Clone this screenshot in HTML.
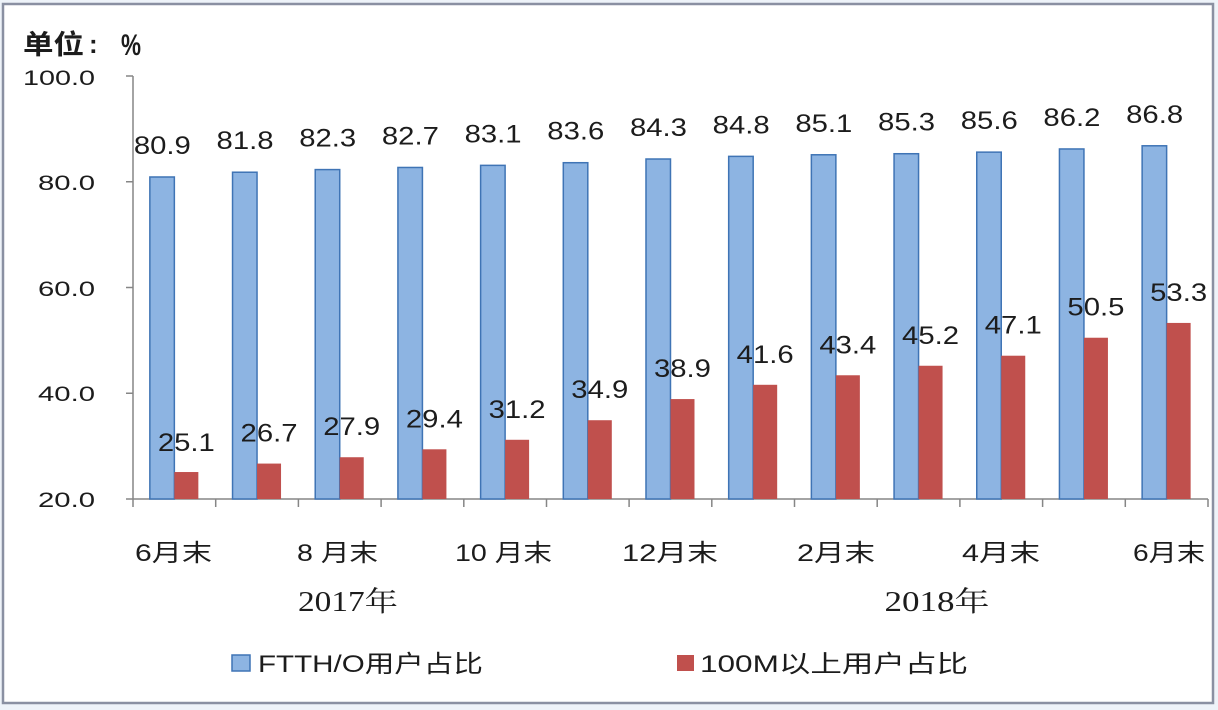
<!DOCTYPE html>
<html>
<head>
<meta charset="utf-8">
<style>
html,body{margin:0;padding:0;background:#ffffff;}
svg{display:block;}
.t{font-family:"Liberation Sans","Noto Sans CJK SC",sans-serif;fill:#1c1c1c;}
.s{font-family:"Liberation Serif","Noto Serif CJK SC","Noto Sans CJK SC",serif;fill:#1c1c1c;}
</style>
</head>
<body>
<svg width="1218" height="710" viewBox="0 0 1218 710" xmlns="http://www.w3.org/2000/svg">
<rect x="0" y="0" width="1218" height="710" fill="#eef3f9"/>
<rect x="3" y="4" width="1210" height="699" fill="#ffffff" stroke="#8a90a2" stroke-width="2.5"/>

<!-- title -->
<text class="t" x="23" y="54" font-size="27" font-weight="bold" textLength="61" lengthAdjust="spacingAndGlyphs">单位</text>
<text class="t" x="89" y="53" font-size="26" font-weight="bold">:</text>
<text class="t" x="121" y="55" font-size="30" font-weight="bold" textLength="20" lengthAdjust="spacingAndGlyphs">%</text>

<!-- axes -->
<g stroke="#868686" stroke-width="1.5" fill="none">
<line x1="133" y1="76" x2="133" y2="507"/>
<line x1="126" y1="76" x2="133" y2="76"/>
<line x1="126" y1="181.75" x2="133" y2="181.75"/>
<line x1="126" y1="287.5" x2="133" y2="287.5"/>
<line x1="126" y1="393.25" x2="133" y2="393.25"/>
<line x1="126" y1="499" x2="1208" y2="499"/>
<line x1="215.7" y1="499" x2="215.7" y2="507"/>
<line x1="298.4" y1="499" x2="298.4" y2="507"/>
<line x1="381.1" y1="499" x2="381.1" y2="507"/>
<line x1="463.8" y1="499" x2="463.8" y2="507"/>
<line x1="546.5" y1="499" x2="546.5" y2="507"/>
<line x1="629.1" y1="499" x2="629.1" y2="507"/>
<line x1="711.8" y1="499" x2="711.8" y2="507"/>
<line x1="794.5" y1="499" x2="794.5" y2="507"/>
<line x1="877.2" y1="499" x2="877.2" y2="507"/>
<line x1="959.9" y1="499" x2="959.9" y2="507"/>
<line x1="1042.6" y1="499" x2="1042.6" y2="507"/>
<line x1="1125.3" y1="499" x2="1125.3" y2="507"/>
<line x1="1208" y1="499" x2="1208" y2="507"/>
</g>

<g class="t" font-size="21" text-anchor="end">
<text x="95" y="85" textLength="72" lengthAdjust="spacingAndGlyphs">100.0</text>
<text x="95" y="190" textLength="57" lengthAdjust="spacingAndGlyphs">80.0</text>
<text x="95" y="296" textLength="57" lengthAdjust="spacingAndGlyphs">60.0</text>
<text x="95" y="401" textLength="57" lengthAdjust="spacingAndGlyphs">40.0</text>
<text x="95" y="507" textLength="57" lengthAdjust="spacingAndGlyphs">20.0</text>
</g>

<!-- blue bars -->
<g fill="#8db4e2" stroke="#3f74b5" stroke-width="1.5">
<rect x="149.85" y="176.99" width="24.5" height="322.01"/>
<rect x="232.54" y="172.23" width="24.5" height="326.77"/>
<rect x="315.23" y="169.59" width="24.5" height="329.41"/>
<rect x="397.92" y="167.47" width="24.5" height="331.53"/>
<rect x="480.61" y="165.36" width="24.5" height="333.64"/>
<rect x="563.30" y="162.71" width="24.5" height="336.29"/>
<rect x="645.99" y="159.01" width="24.5" height="339.99"/>
<rect x="728.68" y="156.37" width="24.5" height="342.63"/>
<rect x="811.37" y="154.78" width="24.5" height="344.22"/>
<rect x="894.06" y="153.73" width="24.5" height="345.27"/>
<rect x="976.75" y="152.14" width="24.5" height="346.86"/>
<rect x="1059.44" y="148.97" width="24.5" height="350.03"/>
<rect x="1142.13" y="145.79" width="24.5" height="353.21"/>
</g>

<!-- red bars -->
<g fill="#c0504d">
<rect x="174.35" y="472.03" width="24" height="26.97"/>
<rect x="257.04" y="463.57" width="24" height="35.43"/>
<rect x="339.73" y="457.23" width="24" height="41.77"/>
<rect x="422.42" y="449.30" width="24" height="49.70"/>
<rect x="505.11" y="439.78" width="24" height="59.22"/>
<rect x="587.80" y="420.22" width="24" height="78.78"/>
<rect x="670.49" y="399.07" width="24" height="99.93"/>
<rect x="753.18" y="384.79" width="24" height="114.21"/>
<rect x="835.87" y="375.27" width="24" height="123.73"/>
<rect x="918.56" y="365.75" width="24" height="133.25"/>
<rect x="1001.25" y="355.71" width="24" height="143.29"/>
<rect x="1083.94" y="337.73" width="24" height="161.27"/>
<rect x="1166.63" y="322.93" width="24" height="176.07"/>
</g>

<!-- blue labels -->
<g class="t" font-size="25" text-anchor="middle">
<text x="162.35" y="154" textLength="57" lengthAdjust="spacingAndGlyphs">80.9</text>
<text x="245.04" y="149.2" textLength="57" lengthAdjust="spacingAndGlyphs">81.8</text>
<text x="327.73" y="146.6" textLength="57" lengthAdjust="spacingAndGlyphs">82.3</text>
<text x="410.42" y="144.5" textLength="57" lengthAdjust="spacingAndGlyphs">82.7</text>
<text x="493.11" y="142.4" textLength="57" lengthAdjust="spacingAndGlyphs">83.1</text>
<text x="575.80" y="139.7" textLength="57" lengthAdjust="spacingAndGlyphs">83.6</text>
<text x="658.49" y="136" textLength="57" lengthAdjust="spacingAndGlyphs">84.3</text>
<text x="741.18" y="133.4" textLength="57" lengthAdjust="spacingAndGlyphs">84.8</text>
<text x="823.87" y="131.8" textLength="57" lengthAdjust="spacingAndGlyphs">85.1</text>
<text x="906.56" y="130.7" textLength="57" lengthAdjust="spacingAndGlyphs">85.3</text>
<text x="989.25" y="129.1" textLength="57" lengthAdjust="spacingAndGlyphs">85.6</text>
<text x="1071.94" y="126" textLength="57" lengthAdjust="spacingAndGlyphs">86.2</text>
<text x="1154.63" y="122.8" textLength="57" lengthAdjust="spacingAndGlyphs">86.8</text>
</g>

<!-- red labels -->
<g class="t" font-size="25" text-anchor="middle">
<text x="186.35" y="451" textLength="57" lengthAdjust="spacingAndGlyphs">25.1</text>
<text x="269.04" y="441.6" textLength="57" lengthAdjust="spacingAndGlyphs">26.7</text>
<text x="351.73" y="435.2" textLength="57" lengthAdjust="spacingAndGlyphs">27.9</text>
<text x="434.42" y="427.3" textLength="57" lengthAdjust="spacingAndGlyphs">29.4</text>
<text x="517.11" y="417.8" textLength="57" lengthAdjust="spacingAndGlyphs">31.2</text>
<text x="599.80" y="398.2" textLength="57" lengthAdjust="spacingAndGlyphs">34.9</text>
<text x="682.49" y="377.1" textLength="57" lengthAdjust="spacingAndGlyphs">38.9</text>
<text x="765.18" y="362.8" textLength="57" lengthAdjust="spacingAndGlyphs">41.6</text>
<text x="847.87" y="353.3" textLength="57" lengthAdjust="spacingAndGlyphs">43.4</text>
<text x="930.56" y="343.8" textLength="57" lengthAdjust="spacingAndGlyphs">45.2</text>
<text x="1013.25" y="333.7" textLength="57" lengthAdjust="spacingAndGlyphs">47.1</text>
<text x="1095.94" y="315.7" textLength="57" lengthAdjust="spacingAndGlyphs">50.5</text>
<text x="1178.63" y="300.9" textLength="57" lengthAdjust="spacingAndGlyphs">53.3</text>
</g>

<!-- x labels -->
<g class="t" font-size="24" text-anchor="middle">
<text x="173.5" y="561" textLength="77" lengthAdjust="spacingAndGlyphs">6月末</text>
<text x="337.5" y="561" textLength="81" lengthAdjust="spacingAndGlyphs">8 月末</text>
<text x="503.5" y="561" textLength="97" lengthAdjust="spacingAndGlyphs">10 月末</text>
<text x="670" y="561" textLength="96" lengthAdjust="spacingAndGlyphs">12月末</text>
<text x="836" y="561" textLength="78" lengthAdjust="spacingAndGlyphs">2月末</text>
<text x="1001" y="561" textLength="78" lengthAdjust="spacingAndGlyphs">4月末</text>
<text x="1169" y="561" textLength="72" lengthAdjust="spacingAndGlyphs">6月末</text>
</g>

<g class="s" font-size="28" text-anchor="middle">
<text x="348" y="611" textLength="100" lengthAdjust="spacingAndGlyphs">2017年</text>
<text x="937" y="611" textLength="105" lengthAdjust="spacingAndGlyphs">2018年</text>
</g>

<!-- legend -->
<rect x="232" y="655" width="18" height="16" fill="#8db4e2" stroke="#3f74b5" stroke-width="1.5"/>
<text class="t" x="258" y="672" font-size="24" textLength="225" lengthAdjust="spacingAndGlyphs">FTTH/O用户占比</text>
<rect x="677" y="655" width="17" height="16" fill="#c0504d"/>
<text class="t" x="700" y="672" font-size="24" textLength="268" lengthAdjust="spacingAndGlyphs">100M以上用户占比</text>
</svg>
</body>
</html>
